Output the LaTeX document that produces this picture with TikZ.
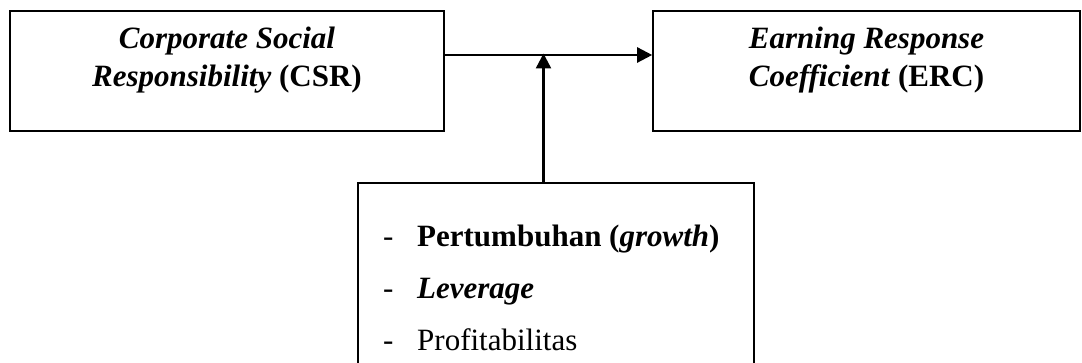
\documentclass[tikz,border=0pt]{standalone}
\usepackage{fontspec}
\setmainfont{Liberation Serif}
\usetikzlibrary{arrows.meta}
\begin{document}
\begin{tikzpicture}[x=1pt,y=-1pt,
  box/.style={draw=black,line width=1.6pt,rectangle,inner sep=0pt},
  txt/.style={inner sep=0pt,anchor=base,font=\fontsize{31}{37}\selectfont},
  ltxt/.style={inner sep=0pt,anchor=base west,font=\fontsize{31}{37}\selectfont},
  conn/.style={line width=2.4pt,-{Triangle[length=15pt,width=15pt]}}]
\useasboundingbox (0,0) rectangle (1082,363);
% boxes
\node[box,minimum width=434pt,minimum height=120pt] (csr) at (227,71) {};
\node[box,minimum width=427pt,minimum height=120pt] (erc) at (866.5,71) {};
\node[box,minimum width=396pt,minimum height=186pt] (mod) at (556,276) {};
% texts
\node[txt] (csr1) at (227,49) {\textbf{\textit{Corporate Social}}};
\node[txt] (csr2) at (227,87) {\textbf{\textit{Responsibility}} \textbf{(CSR)}};
\node[txt] (erc1) at (866.5,49) {\textbf{\textit{Earning Response}}};
\node[txt] (erc2) at (866.5,87) {\textbf{\textit{Coefficient}} \textbf{(ERC)}};
\node[ltxt] (d1) at (383,247) {-};
\node[ltxt] (d2) at (383,299) {-};
\node[ltxt] (d3) at (383,351) {-};
\node[ltxt] (m1) at (417,247) {\textbf{Pertumbuhan (\textit{growth})}};
\node[ltxt] (m2) at (417,299) {\textbf{\textit{Leverage}}};
\node[ltxt] (m3) at (417,351) {Profitabilitas};
% connectors
\coordinate (jn) at (543.5,55);
\draw[conn] (csr.east |- jn) -- (erc.west |- jn);
\draw[conn] (mod.north -| jn) -- ([yshift=1.5pt]jn);
\end{tikzpicture}
\end{document}
